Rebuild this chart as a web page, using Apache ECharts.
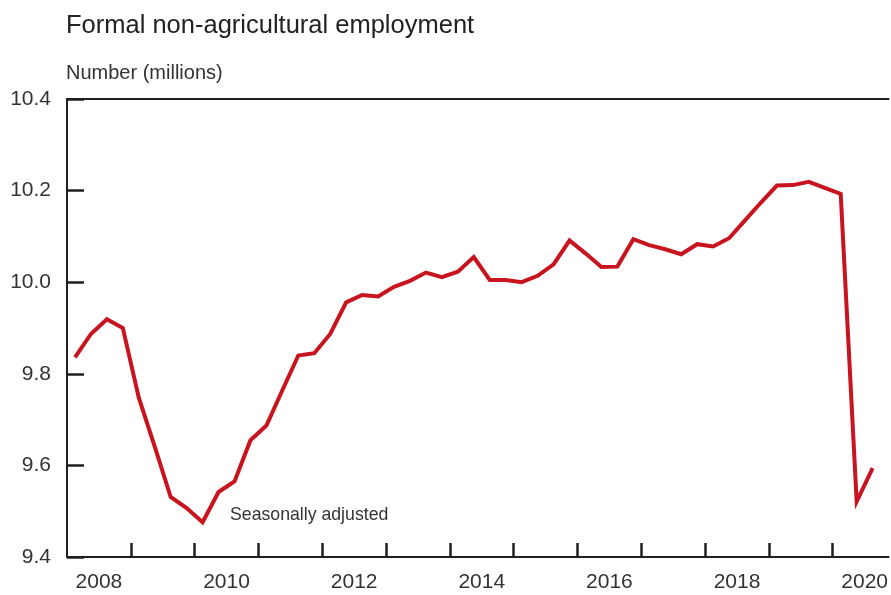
<!DOCTYPE html>
<html>
<head>
<meta charset="utf-8">
<title>Formal non-agricultural employment</title>
<script src="https://cdn.jsdelivr.net/npm/echarts@6/dist/echarts.min.js"></script>
<style>
  html, body { margin: 0; padding: 0; background: #fff; }
  #chart { width: 891px; height: 595px; }
</style>
</head>
<body>
<div id="chart"></div>
<script>
// quarterly data, 2008Q1 .. 2020Q3
const startYear = 2008;
const quarters = Array.from({ length: 51 }, (_, i) => `${startYear + Math.floor(i / 4)}Q${(i % 4) + 1}`);
const employment = [
  9.836, 9.887, 9.919, 9.900,
  9.748, 9.641, 9.531, 9.507,
  9.476, 9.542, 9.565, 9.655,
  9.687, 9.764, 9.840, 9.845,
  9.887, 9.956, 9.972, 9.969,
  9.990, 10.003, 10.021, 10.011,
  10.023, 10.055, 10.005, 10.005,
  10.000, 10.014, 10.039, 10.091,
  10.063, 10.033, 10.034, 10.094,
  10.081, 10.072, 10.061, 10.083,
  10.078, 10.096, 10.135, 10.174,
  10.211, 10.212, 10.219, 10.206,
  10.193, 9.521, 9.594
];
const yearTicks = [2009, 2010, 2011, 2012, 2013, 2014, 2015, 2016, 2017, 2018, 2019, 2020];
const yearLabels = [2008, 2010, 2012, 2014, 2016, 2018, 2020];

const font = "'Liberation Sans', Arial, sans-serif";
const ink = "#231f20";

// quarter -> position in years (middle of the quarter)
const qPos = (q) => Number(q.slice(0, 4)) + (Number(q.slice(5)) - 0.5) / 4;
const seriesData = quarters.map((q, i) => [qPos(q), employment[i]]);

const myChart = echarts.init(document.getElementById("chart"), null, { renderer: "canvas" });

const xMin = 2008;
const xMax = 2008 + 824 / 64;

const option = {
  animation: false,
  backgroundColor: "#fff",
  title: [
    {
      text: "Formal non-agricultural employment",
      left: 61,
      top: 8,
      textStyle: { fontFamily: font, fontSize: 25.5, fontWeight: "normal", color: "#222" },
    },
    {
      text: "Number (millions)",
      left: 61,
      top: 58,
      textStyle: { fontFamily: font, fontSize: 20, fontWeight: "normal", color: "#333" },
    },
  ],
  grid: { left: 67, right: 0, top: 99, bottom: 38, containLabel: false },
  xAxis: [
    {
      type: "value",
      min: xMin,
      max: xMax,
      axisLine: { show: true, lineStyle: { color: ink, width: 2 } },
      axisTick: {
        show: true,
        inside: true,
        length: 14,
        customValues: yearTicks,
        lineStyle: { color: ink, width: 2.5 },
      },
      axisLabel: {
        customValues: yearLabels.map((y) => y + 0.5),
        formatter: (v) => String(Math.floor(v)),
        fontFamily: font,
        fontSize: 21,
        color: "#333",
        margin: 15,
      },
      splitLine: { show: false },
    },
    {
      type: "value",
      position: "top",
      min: xMin,
      max: xMax,
      axisLine: { show: true, onZero: false, lineStyle: { color: ink, width: 2 } },
      axisTick: { show: false },
      axisLabel: { show: false },
      splitLine: { show: false },
    },
  ],
  yAxis: {
    type: "value",
    min: 9.4,
    max: 10.4,
    interval: 0.2,
    axisLine: { show: true, lineStyle: { color: ink, width: 2 } },
    axisTick: { show: true, inside: true, length: 17, lineStyle: { color: ink, width: 2.5 } },
    axisLabel: {
      formatter: (v) => v.toFixed(1),
      fontFamily: font,
      fontSize: 21,
      color: "#333",
      margin: 16,
    },
    splitLine: { show: false },
  },
  graphic: [
    {
      type: "text",
      left: 230,
      top: 506,
      style: { text: "Seasonally adjusted", font: `17.7px ${font}`, fill: "#333" },
    },
  ],
  series: [
    {
      name: "Formal non-agricultural employment",
      type: "line",
      data: seriesData,
      showSymbol: false,
      lineStyle: { color: "#c8141e", width: 4, join: "miter" },
      itemStyle: { color: "#c8141e" },
    },
  ],
};
myChart.setOption(option);
</script>
</body>
</html>
